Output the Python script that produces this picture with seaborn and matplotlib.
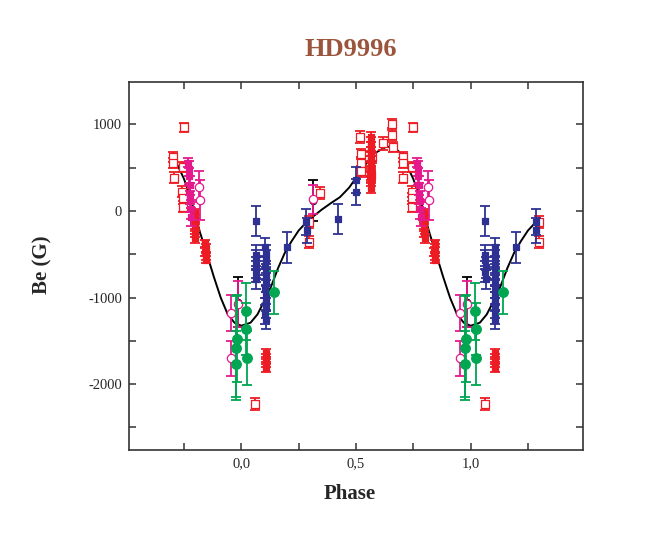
import numpy as np
import pandas as pd
import matplotlib
matplotlib.use("Agg")
import matplotlib.pyplot as plt
from matplotlib.ticker import MultipleLocator, FuncFormatter
import seaborn as sns

# ---------- DATA (phase 0..1, Be in G, error in G) ----------
red_open_phase = [0.703, 0.704, 0.706, 0.749, 0.745, 0.743, 0.744, 0.746, 0.519, 0.520, 0.521,
                  0.523, 0.568, 0.566, 0.619, 0.657, 0.658, 0.660, 0.061, 0.296, 0.297, 0.343]
red_open_be = [625, 555, 385, 965, 505, 225, 145, 50, 855, 660, 560,
               460, 620, 420, 780, 1010, 880, 740, -2225, -125, -355, 205]
red_open_err = [55, 55, 60, 55, 60, 60, 60, 60, 70, 60, 60,
                65, 60, 60, 70, 55, 60, 60, 70, 70, 70, 70]

red_fill_phase = [0.565, 0.565, 0.566, 0.564, 0.566, 0.565, 0.567, 0.565, 0.564, 0.566, 0.565,
                  0.797, 0.796, 0.798, 0.797, 0.799,
                  0.843, 0.844, 0.842, 0.844, 0.845,
                  0.107, 0.108, 0.106, 0.108]
red_fill_be = [855, 800, 745, 690, 630, 575, 515, 455, 395, 340, 265,
               -25, -100, -180, -255, -315,
               -375, -425, -475, -525, -560,
               -1640, -1700, -1755, -1815]
red_fill_err = [55, 55, 55, 55, 55, 55, 55, 55, 55, 55, 60,
                50, 50, 50, 50, 50,
                45, 45, 45, 45, 45,
                45, 45, 45, 45]

mag_sq_phase = [0.768, 0.770, 0.772, 0.774, 0.776, 0.778, 0.780, 0.782]
mag_sq_be = [560, 490, 400, 300, 200, 110, 20, -70]
mag_sq_err = [55, 90, 100, 110, 120, 120, 110, 100]

mag_circ_phase = [0.815, 0.818, 0.953, 0.953, 0.313, 0.986]
mag_circ_be = [280, 127, -1180, -1700, 135, -1070]
mag_circ_err = [180, 230, 210, 200, 165, 265]

black_phase = [0.313, 0.986]
black_be = [120, -1050]
black_err = [235, 290]

blue_phase = [0.064, 0.063, 0.064, 0.065, 0.064, 0.066,
              0.105, 0.106, 0.107, 0.105, 0.108, 0.106, 0.107, 0.105, 0.108, 0.106, 0.107, 0.105, 0.108,
              0.198, 0.284, 0.285, 0.421, 0.500, 0.501]
blue_be = [-115, -510, -565, -650, -700, -790,
           -420, -500, -560, -630, -690, -760, -830, -900, -960, -1040, -1120, -1190, -1255,
           -420, -125, -225, -90, 355, 215]
blue_err = [175, 120, 110, 120, 120, 110,
            110, 110, 110, 110, 110, 110, 110, 110, 110, 110, 110, 110, 110,
            180, 150, 140, 170, 150, 150]

green_phase = [0.975, 0.977, 0.979, 0.021, 0.022, 0.025, 0.142]
green_be = [-1765, -1580, -1475, -1160, -1365, -1695, -940]
green_err = [380, 600, 500, 330, 300, 310, 245]

# fitted magnetic curve
curve_phase = [0.00, 0.04, 0.07, 0.10, 0.13, 0.16, 0.19, 0.22, 0.25, 0.28, 0.31, 0.35, 0.39,
               0.43, 0.47, 0.51, 0.55, 0.59, 0.63, 0.66, 0.69, 0.72, 0.75, 0.78, 0.82, 0.85,
               0.88, 0.91, 0.94, 0.97, 1.00]
curve_be = [-1325, -1290, -1195, -1040, -870, -660, -480, -345, -225, -140, -70, 15, 90,
            160, 270, 420, 570, 680, 740, 745, 680, 540, 370, 140, -250, -500,
            -760, -1000, -1190, -1290, -1325]


def expand(phase, be, err=None):
    # show phases 0.7..1 again before 0 and 0..0.3 again after 1
    df = pd.DataFrame({"phase": phase, "be": be})
    df["err"] = err if err is not None else 0
    left = df[df.phase >= 0.7].assign(phase=lambda d: d.phase - 1)
    right = df[df.phase <= 0.3].assign(phase=lambda d: d.phase + 1)
    return pd.concat([left, df, right], ignore_index=True)


RED = "#ED1C24"
MAG = "#E6198C"
BLUE = "#2E3192"
GREEN = "#00A651"

sns.set_style("ticks")
plt.rcParams["font.family"] = ["Liberation Serif", "DejaVu Serif"]
plt.rcParams["axes.unicode_minus"] = False

fig = plt.figure(figsize=(6.54, 5.47), dpi=100)
ax = fig.add_axes([129 / 654, 1 - 450 / 547, 454 / 654, 368 / 547])

# ---------- CURVE ----------
cv = pd.DataFrame({"phase": np.concatenate([np.array(curve_phase) - 1, curve_phase, np.array(curve_phase) + 1]),
                   "be": np.concatenate([curve_be, curve_be, curve_be])})
cv = cv[(cv.phase >= -0.28) & (cv.phase <= 1.285)].drop_duplicates("phase").sort_values("phase")
sns.lineplot(data=cv, x="phase", y="be", color="black", lw=1.4, estimator=None, ax=ax, zorder=2)

# ---------- POINTS ----------
series = [
    (black_phase, black_be, black_err, "black", "o", "black", 20),
    (red_open_phase, red_open_be, red_open_err, RED, "s", "white", 34),
    (red_fill_phase, red_fill_be, red_fill_err, RED, "s", RED, 20),
    (mag_sq_phase, mag_sq_be, mag_sq_err, MAG, "s", MAG, 20),
    (mag_circ_phase, mag_circ_be, mag_circ_err, MAG, "o", "white", 36),
    (blue_phase, blue_be, blue_err, BLUE, "s", BLUE, 24),
    (green_phase, green_be, green_err, GREEN, "o", GREEN, 48),
]
for i, (ph, be, er, col, mk, face, size) in enumerate(series):
    d = expand(ph, be, er)
    ax.errorbar(d.phase, d.be, yerr=d.err, fmt="none", ecolor=col, elinewidth=1.3,
                capsize=3.5, capthick=1.3, zorder=3 + i)
    sns.scatterplot(data=d, x="phase", y="be", marker=mk, s=size, facecolor=face,
                    edgecolor=col, linewidth=0.9, ax=ax, zorder=3.5 + i, legend=False)

# ---------- AXES ----------
ax.set_xlim(-0.49, 1.49)
ax.set_ylim(-2760, 1490)
ax.xaxis.set_major_locator(MultipleLocator(0.5))
ax.xaxis.set_minor_locator(MultipleLocator(0.25))
ax.yaxis.set_major_locator(MultipleLocator(1000))
ax.yaxis.set_minor_locator(MultipleLocator(500))
ax.xaxis.set_major_formatter(FuncFormatter(lambda v, p: f"{v:.1f}".replace(".", ",")))
ax.yaxis.set_major_formatter(FuncFormatter(lambda v, p: f"{int(v)}"))
ax.tick_params(which="both", direction="in", top=True, right=True, length=4.8, width=1.1,
               color="#333333", labelsize=10.5, pad=5)
for s in ax.spines.values():
    s.set_linewidth(1.2)
    s.set_color("#333333")
ax.set_xlabel("")
ax.set_ylabel("")

fig.text(351 / 654, 1 - 50 / 547, "HD9996", ha="center", va="center", fontsize=19,
         fontweight="bold", color="#9B553C")
fig.text(350 / 654, 1 - 494 / 547, "Phase", ha="center", va="center", fontsize=15, fontweight="bold")
fig.text(42 / 654, 1 - 265 / 547, "Be (G)", ha="center", va="center", rotation=90,
         fontsize=15, fontweight="bold")

fig.savefig("out.png", dpi=100)
